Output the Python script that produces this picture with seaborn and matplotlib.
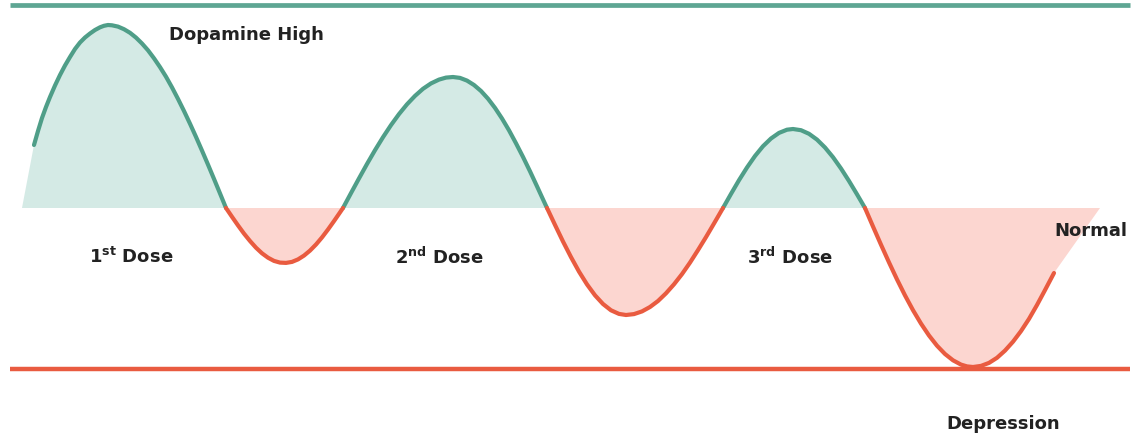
import numpy as np
import pandas as pd
import matplotlib
matplotlib.use("Agg")
import matplotlib.pyplot as plt
import seaborn as sns

sns.set_theme(style="white")
plt.rcParams['font.family'] = ['DejaVu Sans']
plt.rcParams['mathtext.fontset'] = 'custom'
plt.rcParams['mathtext.rm'] = 'DejaVu Sans:bold'

# dopamine level over time (0 = normal)
time = [34, 38, 42, 46, 50, 55, 60, 65, 70, 75, 80, 85, 90, 95, 100, 104, 108,
        112, 118, 124, 130, 136, 142, 148, 154, 160, 166, 172, 178, 184, 190, 196, 202, 208, 214, 220, 226,
        232, 238, 244, 250, 256, 262, 268, 274, 280, 286, 292, 298, 304, 310, 316, 322, 328, 334, 340, 343,
        351, 359, 367, 375, 383, 391, 399, 407, 415, 423, 431, 439, 446, 453,
        460, 467, 474, 481, 488, 495, 502, 509, 516, 523, 530, 537, 542, 547,
        555, 563, 571, 579, 587, 595, 603, 611, 619, 626,
        634, 642, 650, 658, 666, 674, 682, 690, 698, 706, 714, 719, 723,
        731, 739, 747, 755, 763, 771, 779, 787, 793,
        801, 809, 817, 825, 833, 841, 849, 857, 865,
        873, 881, 889, 897, 905, 913, 921, 929, 937, 945, 953, 961, 967, 973,
        981, 989, 997, 1005, 1013, 1021, 1029, 1037, 1045, 1054]
level = [63, 77, 90, 101, 111, 122.5, 133, 142.5, 151, 159, 165.5, 170.5, 174.5, 178, 180.7, 182.2, 183,
         182.7, 181.4, 178.8, 175.2, 170.4, 164.5, 157.7, 149.7, 140.9, 131.3, 120.6, 109.1, 97.0, 84.3,
         71.1, 57.4, 43.4, 29.1, 14.6, 0,
         -8.8, -17.4, -25.6, -33.0, -39.7, -45.3, -49.7, -52.9, -54.6, -54.9, -53.9, -51.4, -47.6, -42.6,
         -36.5, -29.4, -21.5, -13.1, -4.4, 0,
         14.9, 29.6, 44.0, 57.8, 70.8, 82.9, 93.9, 103.7, 112.1, 119.2, 124.6, 128.4, 130.4, 131,
         130.1, 127.4, 123.0, 117.0, 109.3, 100.1, 89.5, 77.7, 64.7, 51.1, 36.7, 21.7, 10.8, 0,
         -16.9, -33.5, -49.1, -63.6, -76.4, -87.3, -96.0, -102.3, -105.9, -107,
         -106.1, -103.4, -99.0, -93.0, -85.3, -76.3, -66.1, -54.6, -42.1, -29.1, -15.5, -6.9, 0,
         14.1, 27.8, 40.5, 52.0, 61.8, 69.5, 75.1, 78.3, 79,
         77.8, 74.2, 68.4, 60.5, 50.8, 39.5, 27.0, 13.7, 0,
         -18.5, -36.7, -54.4, -71.4, -87.4, -102.2, -115.6, -127.5, -137.7, -146.0, -152.3, -156.6, -158.4, -159,
         -157.9, -154.9, -149.8, -142.6, -133.7, -123.1, -110.9, -97.0, -82.1, -65]

# shaded area runs out to the normal line at both ends
fill_start, fill_end = 22, 1100

high_level, low_level = 203, -161
line_span = [10, 1130]

dose_labels = [r"1$^{\mathrm{st}}$ Dose", r"2$^{\mathrm{nd}}$ Dose", r"3$^{\mathrm{rd}}$ Dose"]
dose_x = [131, 439, 790]

green, red = "#4f9e88", "#e95b40"
green_fill, red_fill = "#d4eae5", "#fcd6d0"

# split curve into lobes at the zero crossings
rows, lobe = [], 0
for i, (t, v) in enumerate(zip(time, level)):
    if v == 0 and i > 0:
        rows.append((t, v, lobe))
        lobe += 1
    rows.append((t, v, lobe))
df = pd.DataFrame(rows, columns=["time", "level", "lobe"])
sign = df.groupby("lobe")["level"].transform(lambda s: s[s != 0].mean())
df["phase"] = np.where(sign > 0, "high", "low")

fig = plt.figure(figsize=(11.34, 4.41), dpi=100)
ax = fig.add_axes([0, 0, 1, 1])

fx = np.array([fill_start] + time + [fill_end], dtype=float)
fy = np.array([0] + level + [0], dtype=float)
ax.fill_between(fx, fy, 0, where=fy >= 0, interpolate=True, color=green_fill, lw=0)
ax.fill_between(fx, fy, 0, where=fy <= 0, interpolate=True, color=red_fill, lw=0)

ax.plot(line_span, [high_level] * 2, color="#5ea693", lw=3.4, solid_capstyle="butt")
ax.plot(line_span, [low_level] * 2, color=red, lw=3.2, solid_capstyle="butt")

sns.lineplot(data=df, x="time", y="level", hue="phase", units="lobe", estimator=None,
             palette={"high": green, "low": red}, lw=3.0, legend=False, ax=ax, sort=False,
             solid_joinstyle="round", solid_capstyle="round")

txt = dict(color="#222222", fontsize=13, fontweight="bold", ha="center", va="center")
ax.text(246, 173, "Dopamine High", **txt)
for lab, x in zip(dose_labels, dose_x):
    ax.text(x, -49, lab, **txt)
ax.text(1091, -23, "Normal", **txt)
ax.text(1003, -216, "Depression", **txt)

ax.set_xlim(0, 1134)
ax.set_ylim(-233, 208)
ax.axis("off")

fig.savefig("out.png", dpi=100)
